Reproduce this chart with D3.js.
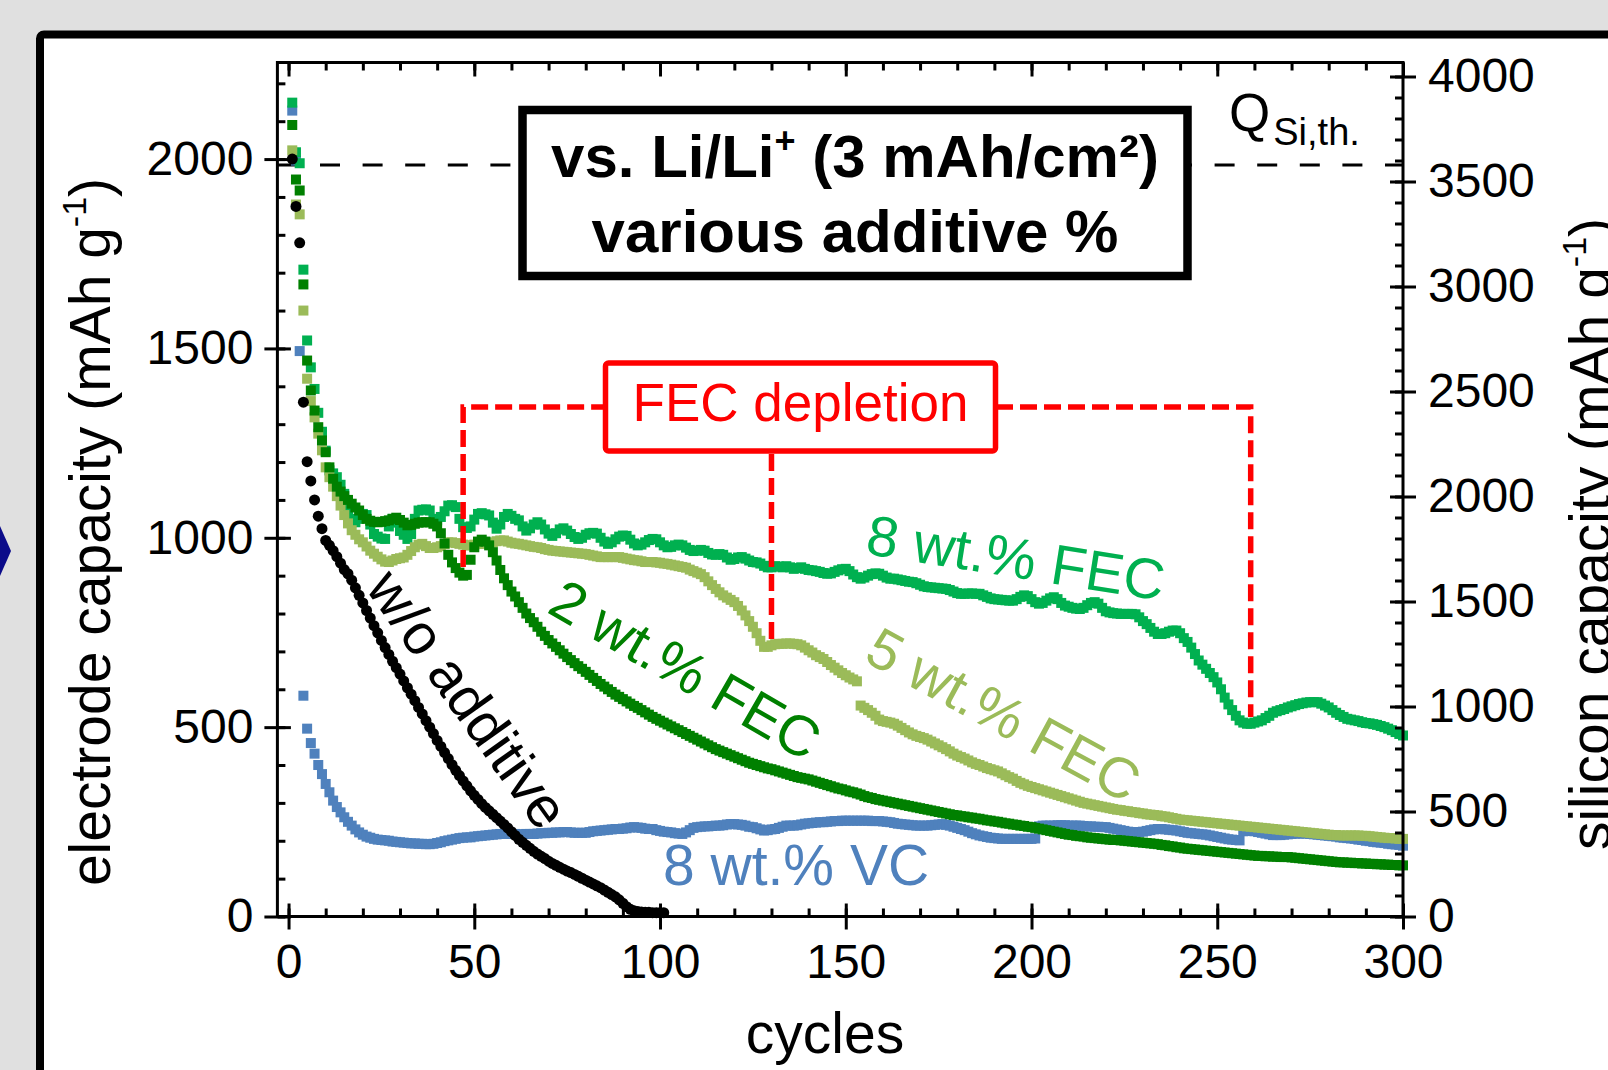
<!DOCTYPE html>
<html><head><meta charset="utf-8">
<script src="https://cdn.jsdelivr.net/npm/d3@7"></script>
<style>html,body{margin:0;padding:0;background:#e0e0e0;overflow:hidden}svg{display:block}</style>
</head><body><svg id="c" width="1608" height="1070"></svg>
<script>
// ---------------- data (electrode capacity, mAh/g, one value per cycle starting at cycle 1) -------------
const woAdditive = [2000,1875,1779,1358,1201,1150,1100,1057,1024,993,
980,966,950,933,916,905,888,868,848,828,
808,788,768,749,729,710,692,674,657,640,
622,604,587,570,552,535,517,500,483,465,
449,433,417,401,386,372,358,345,332,320,
309,298,288,279,270,261,252,243,234,224,
214,204,196,188,180,172,165,159,153,146,
140,135,130,125,120,116,111,106,101,96,
91,86,81,76,70,64,58,52,44,35,
26,19,15,13,12,11,11,10,10,10,
10];
const fec2 = [2090,1946,1917,1669,1468,1389,1336,1292,1257,1226,
1186,1156,1135,1122,1110,1100,1090,1080,1072,1060,
1050,1045,1042,1041,1042,1044,1046,1050,1053,1047,
1040,1033,1034,1037,1040,1041,1041,1041,1037,1030,
1012,985,955,935,920,908,900,902,942,975,
990,995,990,980,962,940,915,893,875,858,
845,830,815,800,788,777,765,752,741,730,
721,712,703,694,685,677,669,661,654,646,
638,630,622,614,607,600,593,586,580,574,
568,562,556,551,545,539,533,527,522,517,
512,507,502,497,492,487,482,477,472,467,
462,457,452,447,442,438,434,430,426,422,
418,414,410,406,403,400,397,394,391,389,
386,383,380,377,374,371,368,366,364,362,
359,356,353,350,347,344,341,338,336,333,
330,328,325,322,318,315,313,310,308,306,
304,302,300,298,296,294,292,290,288,286,
284,282,280,278,276,274,272,270,268,267,
265,264,262,261,259,258,256,254,253,251,
250,248,246,245,243,242,240,239,237,236,
234,232,230,228,226,224,222,220,218,216,
215,213,212,211,209,208,207,206,205,204,
203,202,202,201,200,199,198,197,196,195,
194,193,192,191,189,188,186,185,183,182,
180,179,178,177,176,175,174,173,172,171,
170,169,168,167,166,165,164,163,162,161,
160,160,159,159,158,158,157,157,157,156,
155,154,153,152,151,150,149,148,147,146,
145,144,143,143,142,142,141,141,140,140,
139,139,138,138,137,137,136,136,135,135];
const fec5 = [2023,1880,1854,1600,1420,1361,1318,1275,1231,1186,
1160,1135,1110,1085,1060,1038,1020,1008,996,988,
977,966,958,950,943,937,936,940,944,946,
948,955,965,975,982,984,978,973,973,975,
978,983,988,988,986,984,982,980,980,982,
984,985,984,985,988,991,993,993,990,987,
985,984,982,980,978,976,975,973,970,968,
966,965,964,963,962,961,960,959,958,957,
955,953,951,949,949,949,949,949,949,947,
945,943,941,940,938,936,936,936,935,934,
932,931,929,927,925,923,921,916,912,908,
904,896,885,875,865,856,848,842,836,830,
820,808,795,780,765,748,728,712,712,716,
719,720,720,721,721,720,719,716,710,703,
697,690,685,680,672,664,657,650,643,637,
631,626,621,557,551,545,538,530,520,516,
514,512,509,504,498,492,486,481,477,474,
471,467,462,457,452,447,442,436,430,425,
421,417,412,407,403,400,396,392,389,386,
383,378,373,368,364,358,353,349,345,342,
339,336,333,330,327,324,321,318,315,312,
309,306,303,300,298,296,294,292,290,288,
286,284,282,281,279,278,276,275,273,272,
270,269,268,267,265,264,262,260,258,256,
255,254,253,252,251,250,249,248,247,246,
245,244,243,242,241,240,239,238,237,236,
235,234,233,232,231,230,229,228,227,226,
225,224,223,222,221,220,219,218,217,216,
215,215,214,214,214,214,214,214,213,213,
212,211,210,209,208,207,207,206,205,205];
const fec8 = [2149,2018,1989,1708,1521,1450,1393,1330,1280,1230,
1178,1170,1160,1140,1116,1075,1050,1041,1050,1063,
1060,1035,1010,1003,998,997,1030,1050,1040,1018,
1008,997,1010,1050,1072,1074,1075,1072,1050,1046,
1055,1070,1085,1086,1081,1050,1028,1026,1030,1048,
1063,1065,1062,1059,1040,1024,1035,1055,1063,1058,
1050,1046,1030,1019,1025,1035,1041,1035,1022,1011,
1005,1012,1022,1025,1019,1010,1002,997,1000,1008,
1012,1013,1011,1000,990,984,988,996,1003,1006,
1005,995,985,980,982,988,994,997,996,988,
980,975,976,980,982,980,974,968,965,966,
968,966,960,956,955,957,955,948,942,944,
948,949,945,940,936,935,932,926,922,922,
925,924,922,925,922,918,920,922,918,915,
914,912,910,907,905,906,910,914,917,918,
912,903,896,892,895,900,904,906,905,900,
895,892,892,890,888,886,884,883,880,876,
872,870,869,868,867,866,865,862,858,854,
852,852,853,853,852,852,848,844,840,838,
837,836,835,834,834,838,844,848,846,838,
830,826,828,834,840,843,838,828,821,818,
815,813,812,815,822,828,830,826,815,806,
803,801,800,799,799,799,799,798,790,780,
772,762,752,746,746,748,752,755,755,748,
735,725,710,693,676,665,654,643,632,618,
600,578,560,545,530,518,512,509,509,512,
515,518,524,530,538,542,545,548,552,555,
558,561,563,565,566,566,566,562,557,552,
545,538,532,527,522,520,518,516,513,511,
510,508,506,503,500,496,492,487,482,478];
const vc8 = [2128,1996,1493,583,496,458,430,400,376,350,
328,306,289,275,262,250,240,230,222,216,
211,208,205,203,202,201,200,198,197,196,
195,194,193,193,192,192,191,191,192,194,
196,199,201,203,205,207,208,209,209,211,
212,213,214,215,216,217,218,218,218,218,
218,217,217,218,218,218,219,220,220,221,
221,222,222,223,223,222,221,221,221,221,
223,225,226,227,228,229,230,231,231,232,
233,235,236,235,234,232,231,231,228,226,
224,223,222,220,219,218,222,228,234,236,
237,238,238,239,240,240,241,243,244,244,
243,242,240,237,236,233,230,227,228,230,
231,234,237,240,240,240,241,243,245,246,
247,248,249,249,250,251,252,252,253,253,
253,253,253,253,253,253,252,252,252,251,
250,249,247,245,244,243,242,241,240,240,
240,240,241,242,243,244,242,240,237,234,
231,228,224,220,217,214,212,210,208,207,
206,205,205,205,205,205,205,205,205,205,
206,238,240,240,240,240,241,241,241,240,
240,240,240,239,238,238,237,237,236,236,
234,232,230,228,226,224,223,223,223,224,
226,228,230,231,231,230,229,228,227,225,
223,221,220,219,218,217,216,214,212,210,
208,206,204,203,202,201,225,226,226,225,
223,221,219,217,215,215,215,216,217,218,
219,219,219,219,218,217,216,215,214,213,
212,211,209,208,207,206,205,203,202,200,
199,197,196,195,194,192,191,190,189,187];

const xTicks = [0,50,100,150,200,250,300];
const yLeftTicks = [0,500,1000,1500,2000];
const yRightTicks = [0,500,1000,1500,2000,2500,3000,3500,4000];
const depletionCycles = [47,130,259];
const qSiTheoretical = 3579;
const siPerElectrode = 1.8034;

// ---------------- drawing -------------
const FONT = "'Liberation Sans', Arial, Helvetica, sans-serif";
const svg = d3.select("#c");
svg.append("rect").attr("width",1608).attr("height",1070).attr("fill","#e0e0e0");
svg.append("path").attr("d","M0,526 L11,551 L0,576 Z").attr("fill","#0b0b8a");
svg.append("rect").attr("x",40).attr("y",34.5).attr("width",1700).attr("height",1200)
  .attr("rx",4).attr("fill","#fff").attr("stroke","#000").attr("stroke-width",8);

const x = d3.scaleLinear().domain([-3,300]).range([277.4,1403]);
const yL = d3.scaleLinear().domain([0,2255]).range([916.5,62.5]);
const yR = d3.scaleLinear().domain([0,2255*siPerElectrode]).range([916.5,62.5]);

// theoretical Si capacity dashed line
svg.append("line").attr("x1",x(-3)).attr("x2",x(300))
  .attr("y1",yR(qSiTheoretical)).attr("y2",yR(qSiTheoretical))
  .attr("stroke","#000").attr("stroke-width",3).attr("stroke-dasharray","20,22.6");

// data
const S = 10;
function squares(data,color){
  svg.append("g").selectAll("rect").data(data).join("rect")
    .attr("x",(d,i)=>x(i+1)-S/2).attr("y",d=>yL(d)-S/2)
    .attr("width",S).attr("height",S).attr("fill",color);
}
squares(vc8,"#4f81bd");
squares(fec8,"#00b050");
squares(fec5,"#9bbb59");
squares(fec2,"#008000");
svg.append("g").selectAll("circle").data(woAdditive).join("circle")
  .attr("cx",(d,i)=>x(i+1)).attr("cy",d=>yL(d)).attr("r",5.5).attr("fill","#000");

// axes
const fmt = d3.format("d");
function style(g){
  g.select(".domain").remove();
  g.selectAll("line").attr("stroke","#000").attr("stroke-width",3);
  g.selectAll("text").attr("font-family",FONT).attr("font-size",48).attr("fill","#000");
  g.attr("font-family",null).attr("font-size",null);
}
const minorX = d3.range(0,301,10), minorYL = d3.range(0,2255,100), minorYR = d3.range(0,4061,100);
// left
svg.append("g").attr("transform","translate(277.4,0)")
  .call(d3.axisLeft(yL).tickValues(yLeftTicks).tickFormat(fmt).tickSize(13).tickPadding(11).tickSizeOuter(0)).call(style);
svg.append("g").attr("transform","translate(277.4,0)")
  .call(d3.axisRight(yL).tickValues(yLeftTicks).tickSize(13.5).tickFormat("").tickSizeOuter(0)).call(style);
svg.append("g").attr("transform","translate(277.4,0)")
  .call(d3.axisRight(yL).tickValues(minorYL).tickSize(8).tickFormat("").tickSizeOuter(0)).call(style);
// bottom
svg.append("g").attr("transform","translate(0,916.5)")
  .call(d3.axisBottom(x).tickValues(xTicks).tickFormat(fmt).tickSize(13).tickPadding(14).tickSizeOuter(0)).call(style);
svg.append("g").attr("transform","translate(0,916.5)")
  .call(d3.axisTop(x).tickValues(xTicks).tickSize(13).tickFormat("").tickSizeOuter(0)).call(style);
svg.append("g").attr("transform","translate(0,916.5)")
  .call(d3.axisTop(x).tickValues(minorX).tickSize(8).tickFormat("").tickSizeOuter(0)).call(style);
// top
svg.append("g").attr("transform","translate(0,62.5)")
  .call(d3.axisBottom(x).tickValues(xTicks).tickSize(14).tickFormat("").tickSizeOuter(0)).call(style);
svg.append("g").attr("transform","translate(0,62.5)")
  .call(d3.axisBottom(x).tickValues(minorX).tickSize(8).tickFormat("").tickSizeOuter(0)).call(style);
// right
svg.append("g").attr("transform","translate(1403,0)")
  .call(d3.axisRight(yR).tickValues(yRightTicks).tickFormat(fmt).tickSize(13).tickPadding(12).tickSizeOuter(0)).call(style);
svg.append("g").attr("transform","translate(1403,0)")
  .call(d3.axisLeft(yR).tickValues(yRightTicks).tickSize(13).tickFormat("").tickSizeOuter(0)).call(style);
svg.append("g").attr("transform","translate(1403,0)")
  .call(d3.axisLeft(yR).tickValues(minorYR).tickSize(8).tickFormat("").tickSizeOuter(0)).call(style);
// plot frame
svg.append("rect").attr("x",277.4).attr("y",62.5).attr("width",1403-277.4).attr("height",916.5-62.5)
  .attr("fill","none").attr("stroke","#000").attr("stroke-width",3);

// axis titles
function title(tx,ty,rot,main,sup,tail){
  const t = svg.append("text").attr("transform",`translate(${tx},${ty}) rotate(${rot})`)
    .attr("text-anchor","middle").attr("font-family",FONT).attr("font-size",57).attr("fill","#000");
  t.append("tspan").text(main);
  if(sup){ t.append("tspan").attr("font-size",34).attr("dy",-24).text(sup);
           t.append("tspan").attr("dy",24).text(tail); }
  return t;
}
title(110,532,-90,"electrode capacity (mAh g","-1",")");
title(1610,534,-90,"silicon capacity (mAh g","-1",")");
title(825,1053,0,"cycles");

// Q Si,th label
const q = svg.append("text").attr("x",1229).attr("y",131).attr("font-family",FONT).attr("font-size",53).attr("fill","#000");
q.append("tspan").text("Q");
q.append("tspan").attr("font-size",38).attr("dx",3).attr("dy",14).text("Si,th.");

// info box
svg.append("rect").attr("x",522.5).attr("y",110).attr("width",665).attr("height",166)
  .attr("fill","#fff").attr("stroke","#000").attr("stroke-width",8.5);
const b1 = svg.append("text").attr("x",855).attr("y",177).attr("text-anchor","middle")
  .attr("font-family",FONT).attr("font-weight","bold").attr("font-size",60).attr("fill","#000");
b1.append("tspan").text("vs. Li/Li");
b1.append("tspan").attr("font-size",36).attr("dy",-24).text("+");
b1.append("tspan").attr("dy",24).text(" (3 mAh/cm²)");
svg.append("text").attr("x",855).attr("y",251.7).attr("text-anchor","middle")
  .attr("font-family",FONT).attr("font-weight","bold").attr("font-size",60).attr("fill","#000")
  .text("various additive %");

// FEC depletion annotation
const red = "#ff0000";
const hy = 407;
const gR = svg.append("g").attr("stroke",red).attr("stroke-width",5.5).attr("fill","none").attr("stroke-dasharray","17,7");
gR.append("path").attr("d",`M${x(depletionCycles[0])},567 V${hy} H605`);
gR.append("path").attr("d",`M${x(depletionCycles[1])},454 V642`);
gR.append("path").attr("d",`M996,${hy} H${x(depletionCycles[2])} V717`);
svg.append("rect").attr("x",605.5).attr("y",363).attr("width",390).attr("height",88).attr("rx",3)
  .attr("fill","#fff").attr("stroke",red).attr("stroke-width",5.5);
svg.append("text").attr("x",800.5).attr("y",421).attr("text-anchor","middle")
  .attr("font-family",FONT).attr("font-size",53).attr("fill",red).text("FEC depletion");

// series labels
function lab(txt,cx,cy,rot,color,dy){
  svg.append("text").attr("transform",`translate(${cx},${cy}) rotate(${rot})`)
    .attr("text-anchor","middle").attr("dy",dy).attr("font-family",FONT).attr("font-size",57)
    .attr("fill",color).text(txt);
}
lab("8 wt.% FEC",1016,557,9,"#00b050","0.36em");
lab("2 wt.% FEC",686,669,30,"#008000","0.36em");
lab("5 wt.% FEC",1004,714,28.5,"#9bbb59","0.36em");
lab("w/o additive",464,702,54.5,"#000","0.26em");
svg.append("text").attr("x",663).attr("y",885).attr("font-family",FONT).attr("font-size",57)
  .attr("fill","#4f81bd").text("8 wt.% VC");
</script></body></html>
